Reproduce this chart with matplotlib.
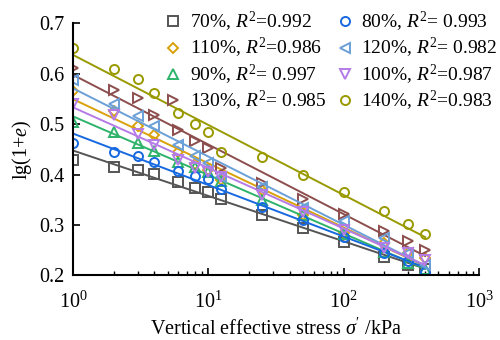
import numpy as np
import matplotlib
matplotlib.use("Agg")
import matplotlib.pyplot as plt

plt.rcParams['font.family'] = ['Liberation Serif', 'DejaVu Serif']
plt.rcParams['mathtext.fontset'] = 'custom'
plt.rcParams['mathtext.rm'] = 'Liberation Serif'
plt.rcParams['mathtext.it'] = 'Liberation Serif:italic'

# --- DATA ---
stress = [1, 2, 3, 4, 6, 8, 10, 12.5, 25, 50, 100, 200, 300, 400]

w70 = [0.429, 0.416, 0.409, 0.401, 0.386, 0.373, 0.365, 0.352, 0.319, 0.294, 0.267, 0.237, 0.221, 0.212]
w80 = [0.463, 0.445, 0.436, 0.426, 0.408, 0.397, 0.391, 0.371, 0.336, 0.309, 0.277, 0.245, 0.228, 0.207]
w90 = [0.504, 0.485, 0.462, 0.447, 0.425, 0.415, 0.405, 0.388, 0.350, 0.320, 0.283, 0.247, 0.225, 0.212]
w100 = [0.541, 0.518, 0.480, 0.459, 0.429, 0.414, 0.406, 0.395, 0.360, 0.325, 0.290, 0.255, 0.245, 0.231]
w110 = [0.566, 0.526, 0.497, 0.479, 0.444, 0.421, 0.409, 0.390, 0.370, 0.320, 0.285, 0.265, 0.245, 0.234]
w120 = [0.588, 0.541, 0.516, 0.497, 0.459, 0.436, 0.424, 0.395, 0.375, 0.333, 0.307, 0.274, 0.244, 0.221]
w130 = [0.611, 0.568, 0.552, 0.518, 0.488, 0.467, 0.452, 0.413, 0.384, 0.351, 0.322, 0.289, 0.269, 0.251]
w140 = [0.652, 0.609, 0.589, 0.562, 0.522, 0.500, 0.485, 0.445, 0.434, 0.399, 0.365, 0.328, 0.303, 0.282]

# legend order (column-wise fill for 2 columns)
series = [
    (w70, "70%, $R^2$=0.992", "s", "#555555"),
    (w110, "110%, $R^2$=0.986", "D", "#d9a20b"),
    (w90, "90%, $R^2$= 0.997", "^", "#2fb36b"),
    (w130, "130%, $R^2$= 0.985", ">", "#8c4d4d"),
    (w80, "80%, $R^2$= 0.993", "o", "#1769e0"),
    (w120, "120%, $R^2$= 0.982", "<", "#6a9fd8"),
    (w100, "100%, $R^2$=0.987", "v", "#b57be6"),
    (w140, "140%, $R^2$=0.983", "o", "#999900"),
]

fig = plt.figure(figsize=(5, 3.4), dpi=100)
ax = fig.add_axes([0.146, 0.19, 0.812, 0.741])

x = np.array(stress)
for vals, label, mk, col in series:
    ms = 5.5 if mk == "D" else 6.5
    ax.plot(x, vals, linestyle="none", marker=mk, markersize=ms, markerfacecolor="none",
            markeredgecolor=col, markeredgewidth=1.4, label=label)
    # linear fit in log space
    k, b = np.polyfit(np.log10(x), vals, 1)
    xf = np.array([1, 400])
    ax.plot(xf, k * np.log10(xf) + b, color=col, linewidth=1.4)

ax.set_xscale("log")
ax.set_xlim(1, 1000)
ax.set_ylim(0.2, 0.7)
ax.set_yticks([0.2, 0.3, 0.4, 0.5, 0.6, 0.7])
ax.set_yticklabels(["0.2", "0.3", "0.4", "0.5", "0.6", "0.7"])
ax.spines["top"].set_visible(False)
ax.spines["right"].set_visible(False)
ax.spines["left"].set_linewidth(1.5)
ax.spines["bottom"].set_linewidth(1.5)
ax.tick_params(which="major", direction="in", length=5, width=1.2, labelsize=14.5)
ax.tick_params(which="minor", direction="in", length=3, width=1.0)
ax.tick_params(axis="x", pad=12)
ax.tick_params(axis="y", pad=6)

ax.set_xlabel("Vertical effective stress $\\sigma'$ /kPa", fontsize=14.5, labelpad=4)
ax.set_ylabel("lg(1+$e$)", fontsize=14.5, labelpad=4)

ax.legend(ncol=2, loc="upper right", bbox_to_anchor=(1.075, 1.1), frameon=False, fontsize=14,
          handlelength=0.7, handletextpad=0.5, columnspacing=0.6, labelspacing=0.12,
          borderaxespad=0.2)

fig.savefig("out.png", dpi=100)
